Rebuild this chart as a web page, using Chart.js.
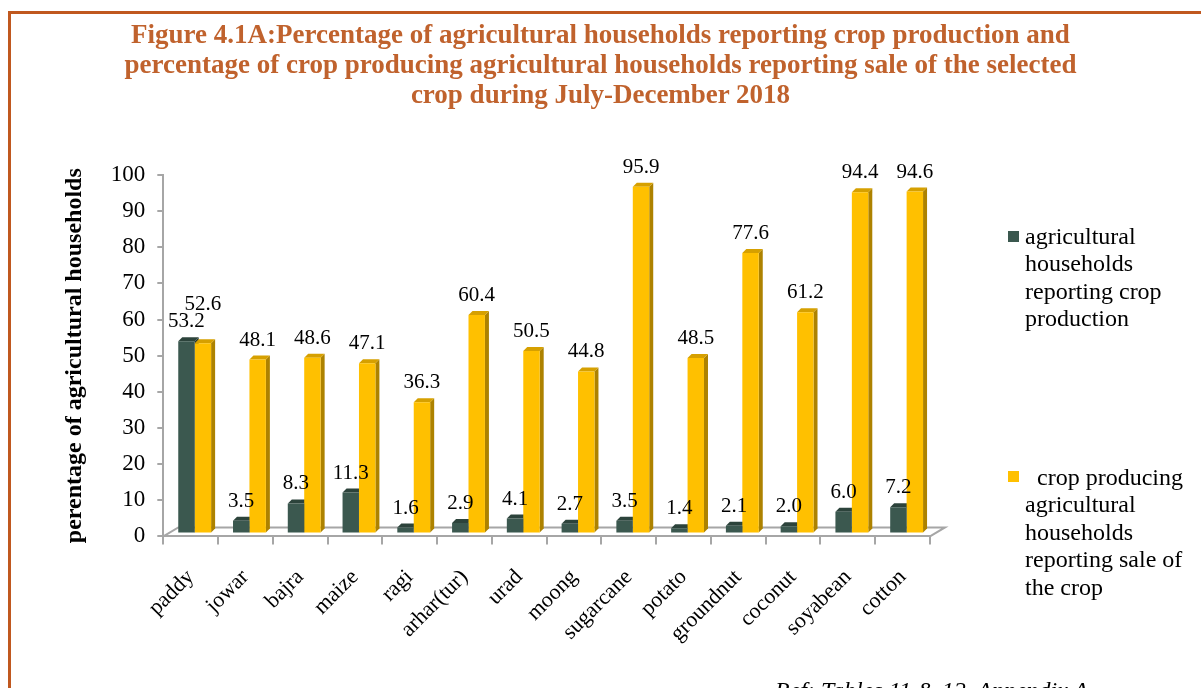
<!DOCTYPE html>
<html lang="en">
<head>
    <meta charset="UTF-8">
    <title>Figure 4.1A</title>
    <script src="https://cdn.jsdelivr.net/npm/chart.js"></script>
    <style>
        html, body { margin: 0; padding: 0; background: #fff; overflow: hidden; }
        body { width: 1201px; height: 688px; position: relative; font-family: "Liberation Serif", "Times New Roman", serif; }
        .frame {
            position: absolute; left: 8px; top: 11px; right: -10px; bottom: -10px;
            border-top: 3px solid #C0581F; border-left: 3px solid #C0581F;
        }
        #chart { position: absolute; left: 0; top: 0; }
        .title {
            position: absolute; left: 0; width: 1201px; top: 19px; text-align: center;
            font-size: 27px; line-height: 30px; font-weight: bold; color: #C0622D;
        }
        .legend-item { position: absolute; left: 1008px; font-size: 24px; line-height: 27.4px; color: #000; }
        .legend-item .box { position: absolute; left: 0; width: 11px; height: 11px; }
        .legend-item .txt { position: absolute; left: 17px; white-space: nowrap; }
        .ref { position: absolute; left: 775px; top: 677px; font-size: 24px; line-height: 27.6px; font-style: italic; white-space: nowrap; }
    </style>
</head>
<body>
    <div class="frame"></div>
    <canvas id="chart" width="1201" height="688"></canvas>
    <div class="title" id="title"></div>

    <!-- Legend -->
    <div class="legend-item" style="top: 223px;">
        <div class="box" style="top: 8px; background: #3B584F;"></div>
        <div class="txt">agricultural<br>households<br>reporting crop<br>production</div>
    </div>
    <div class="legend-item" style="top: 464px;">
        <div class="box" style="top: 7px; background: #FFC000;"></div>
        <div class="txt"><span style="padding-left: 12px;">crop producing</span><br>agricultural<br>households<br>reporting sale of<br>the crop</div>
    </div>

    <div class="ref">Ref: Tables 11 &amp; 12, Appendix A</div>

    <script>
        // Data
        const categories = ['paddy', 'jowar', 'bajra', 'maize', 'ragi', 'arhar(tur)', 'urad', 'moong',
            'sugarcane', 'potato', 'groundnut', 'coconut', 'soyabean', 'cotton'];
        const cropProduction = [53.2, 3.5, 8.3, 11.3, 1.6, 2.9, 4.1, 2.7, 3.5, 1.4, 2.1, 2.0, 6.0, 7.2];
        const cropSale = [52.6, 48.1, 48.6, 47.1, 36.3, 60.4, 50.5, 44.8, 95.9, 48.5, 77.6, 61.2, 94.4, 94.6];
        const seriesNames = ['agricultural households reporting crop production',
            'crop producing agricultural households reporting sale of the crop'];
        const titleLines = [
            'Figure 4.1A:Percentage of agricultural households reporting crop production and',
            'percentage of crop producing agricultural households reporting sale of the selected',
            'crop during July-December 2018'
        ];
        const yAxisTitle = 'perentage of agricultural households';

        const frontColors = ['#3B584F', '#FFC000'];
        const topColors = ['#2C433B', '#D6A000'];
        const sideColors = ['#24372F', '#AD8200'];
        const depth = 4;
        const axisGray = '#A6A6A6';
        const serif = '"Liberation Serif", "Times New Roman", serif';

        const titleEl = document.getElementById('title');
        titleLines.forEach((line, i) => {
            if (i) titleEl.appendChild(document.createElement('br'));
            titleEl.appendChild(document.createTextNode(line));
        });

        // floor + 3D faces drawn behind bar fronts; bars sit a little back on the floor
        const bar3d = {
            id: 'bar3d',
            beforeDatasetsDraw(chart) {
                const ctx = chart.ctx;
                const a = chart.chartArea;
                ctx.save();
                ctx.strokeStyle = axisGray;
                ctx.lineWidth = 2;
                ctx.beginPath();
                ctx.moveTo(a.left, a.bottom);
                ctx.lineTo(a.left + 15, a.bottom - 9);
                ctx.lineTo(a.right + 15, a.bottom - 9);
                ctx.lineTo(a.right, a.bottom);
                ctx.stroke();
                ctx.restore();

                // kept until afterDatasetsDraw so the bar fronts get the same shift
                ctx.save();
                ctx.translate(4, -3);
                chart.data.datasets.forEach((ds, i) => {
                    chart.getDatasetMeta(i).data.forEach(bar => {
                        const l = bar.x - bar.width / 2, r = bar.x + bar.width / 2;
                        const t = bar.y, b = bar.base;
                        ctx.fillStyle = sideColors[i];
                        ctx.beginPath();
                        ctx.moveTo(r, t);
                        ctx.lineTo(r + depth, t - depth);
                        ctx.lineTo(r + depth, b - depth);
                        ctx.lineTo(r, b);
                        ctx.closePath();
                        ctx.fill();
                        ctx.fillStyle = topColors[i];
                        ctx.beginPath();
                        ctx.moveTo(l, t);
                        ctx.lineTo(l + depth, t - depth);
                        ctx.lineTo(r + depth, t - depth);
                        ctx.lineTo(r, t);
                        ctx.closePath();
                        ctx.fill();
                    });
                });
            },
            afterDatasetsDraw(chart) {
                const ctx = chart.ctx;
                ctx.restore();
                ctx.save();
                ctx.font = '21px ' + serif;
                ctx.fillStyle = '#000';
                ctx.textAlign = 'center';
                ctx.textBaseline = 'alphabetic';
                const placed = [];
                chart.data.datasets.forEach((ds, i) => {
                    chart.getDatasetMeta(i).data.forEach((bar, j) => {
                        const text = ds.data[j].toFixed(1);
                        const w = ctx.measureText(text).width;
                        const x = bar.x + 4;
                        let y = bar.y - 17;
                        // push up if it collides with an earlier label
                        placed.forEach(p => {
                            if (Math.abs(p.x - x) < (p.w + w) / 2 && Math.abs(p.y - y) < 17) {
                                y = p.y - 17;
                            }
                        });
                        placed.push({ x: x, y: y, w: w });
                        ctx.fillText(text, x, y);
                    });
                });
                ctx.restore();
            }
        };

        const ctx = document.getElementById('chart').getContext('2d');
        const chart = new Chart(ctx, {
            type: 'bar',
            data: {
                labels: categories,
                datasets: [
                    { label: seriesNames[0], data: cropProduction, backgroundColor: frontColors[0] },
                    { label: seriesNames[1], data: cropSale, backgroundColor: frontColors[1] }
                ]
            },
            options: {
                responsive: false,
                animation: false,
                categoryPercentage: 0.6,
                barPercentage: 1.0,
                layout: { padding: { left: 60, right: 271, top: 175, bottom: 21 } },
                plugins: {
                    legend: { display: false },
                    tooltip: { enabled: false }
                },
                scales: {
                    x: {
                        grid: { display: true, drawOnChartArea: false, color: axisGray, tickLength: 8, lineWidth: 2 },
                        border: { color: axisGray, width: 2 },
                        ticks: {
                            color: '#000', font: { family: serif, size: 22 },
                            maxRotation: 45, minRotation: 45, padding: 20, autoSkip: false
                        }
                    },
                    y: {
                        min: 0, max: 100,
                        grid: { display: true, drawOnChartArea: false, color: axisGray, tickLength: 6, lineWidth: 2 },
                        border: { color: axisGray, width: 2 },
                        ticks: { stepSize: 10, color: '#000', font: { family: serif, size: 23 }, padding: 12 },
                        title: {
                            display: true,
                            text: yAxisTitle,
                            color: '#000',
                            font: { family: serif, size: 24, weight: 'bold' },
                            padding: { top: 0, bottom: 10 }
                        }
                    }
                }
            },
            plugins: [bar3d]
        });
    </script>
</body>
</html>
